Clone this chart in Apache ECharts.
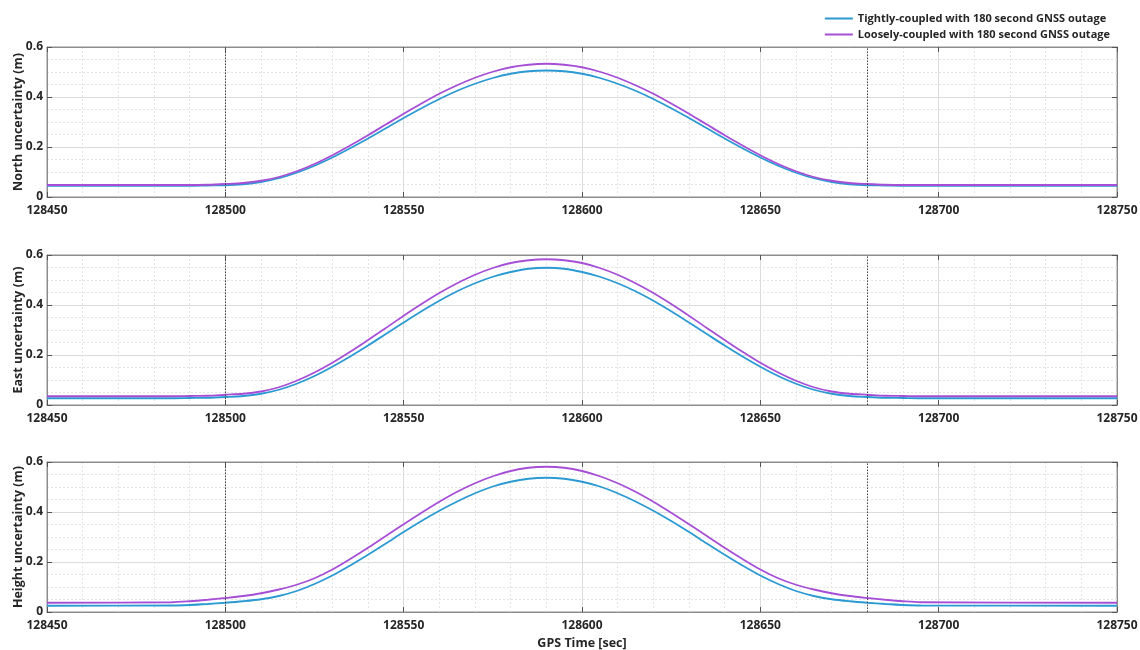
<!DOCTYPE html>
<html>
<head>
<meta charset="utf-8">
<script src="https://cdn.jsdelivr.net/npm/echarts@6/dist/echarts.min.js"></script>
<style>
  html, body { margin: 0; padding: 0; background: #fff; }
  #chart { width: 1140px; height: 650px; }
</style>
</head>
<body>
<div id="chart"></div>
<script>
// ---- data ----
const times = [128450, 128485, 128490, 128495,
  128500, 128505, 128510, 128515, 128520, 128525, 128530, 128535, 128540, 128545,
  128550, 128555, 128560, 128565, 128570, 128575, 128580, 128585, 128590,
  128595, 128600, 128605, 128610, 128615, 128620, 128625, 128630, 128635,
  128640, 128645, 128650, 128655, 128660, 128665, 128670, 128675, 128680,
  128685, 128690, 128695, 128750];

const northTight = [0.045, 0.045, 0.045, 0.046,
  0.047, 0.051, 0.060, 0.075, 0.097, 0.125, 0.158, 0.195, 0.234, 0.275, 0.316, 0.355, 0.392, 0.425, 0.453, 0.476, 0.493, 0.503, 0.506,
  0.503, 0.493, 0.476, 0.453, 0.425, 0.392, 0.355, 0.316, 0.275, 0.234, 0.195, 0.158, 0.125, 0.097, 0.075, 0.060, 0.051, 0.047,
  0.046, 0.045, 0.045, 0.045];
const northLoose = [0.048, 0.048, 0.048, 0.049,
  0.052, 0.056, 0.065, 0.080, 0.103, 0.132, 0.167, 0.206, 0.247, 0.290, 0.333, 0.374, 0.413, 0.447, 0.477, 0.501, 0.519, 0.529, 0.533,
  0.529, 0.519, 0.501, 0.477, 0.447, 0.413, 0.374, 0.333, 0.290, 0.247, 0.206, 0.167, 0.132, 0.103, 0.080, 0.065, 0.056, 0.052,
  0.049, 0.048, 0.048, 0.048];
const eastTight = [0.027, 0.027, 0.028, 0.029,
  0.032, 0.036, 0.045, 0.061, 0.085, 0.116, 0.153, 0.194, 0.238, 0.284, 0.330, 0.375, 0.417, 0.455, 0.487, 0.513, 0.532, 0.545, 0.549,
  0.545, 0.532, 0.513, 0.487, 0.455, 0.417, 0.375, 0.330, 0.284, 0.238, 0.194, 0.153, 0.116, 0.085, 0.061, 0.045, 0.036, 0.032,
  0.029, 0.028, 0.027, 0.027];
const eastLoose = [0.035, 0.035, 0.036, 0.037,
  0.041, 0.045, 0.054, 0.071, 0.097, 0.130, 0.169, 0.213, 0.260, 0.308, 0.357, 0.404, 0.448, 0.487, 0.521, 0.548, 0.568, 0.579, 0.583,
  0.579, 0.568, 0.548, 0.521, 0.487, 0.448, 0.404, 0.357, 0.308, 0.260, 0.213, 0.169, 0.130, 0.097, 0.071, 0.054, 0.045, 0.041,
  0.037, 0.036, 0.035, 0.035];
const heightTight = [0.025, 0.026, 0.028, 0.032,
  0.037, 0.043, 0.051, 0.064, 0.084, 0.112, 0.146, 0.186, 0.229, 0.274, 0.320, 0.364, 0.405, 0.442, 0.475, 0.502, 0.521, 0.533, 0.537,
  0.533, 0.521, 0.502, 0.475, 0.442, 0.405, 0.364, 0.320, 0.274, 0.229, 0.186, 0.146, 0.112, 0.084, 0.064, 0.051, 0.043, 0.037,
  0.032, 0.028, 0.026, 0.025];
const heightLoose = [0.037, 0.039, 0.043, 0.049,
  0.056, 0.064, 0.075, 0.090, 0.109, 0.135, 0.170, 0.212, 0.257, 0.304, 0.351, 0.397, 0.441, 0.481, 0.515, 0.543, 0.564, 0.577, 0.581,
  0.577, 0.564, 0.543, 0.515, 0.481, 0.441, 0.397, 0.351, 0.304, 0.257, 0.212, 0.170, 0.135, 0.109, 0.090, 0.075, 0.064, 0.056,
  0.049, 0.043, 0.039, 0.037];

const panelNames = ['North uncertainty (m)', 'East uncertainty (m)', 'Height uncertainty (m)'];
const seriesNames = ['Tightly-coupled with 180 second GNSS outage', 'Loosely-coupled with 180 second GNSS outage'];
const tightSets = [northTight, eastTight, heightTight];
const looseSets = [northLoose, eastLoose, heightLoose];
const outageMarks = [128500, 128680];
const xName = 'GPS Time [sec]';

// ---- chart ----
const FONT = '"Open Sans", "Noto Sans", sans-serif';
const TXT = '#262626';
const BLUE = '#2b9ad3';
const PURPLE = '#a64fd6';
const gridTops = [47, 255, 462];
const gridH = 150;

const grids = [], xAxes = [], yAxes = [], series = [];
gridTops.forEach((top, p) => {
  grids.push({ left: 47, right: 23, top: top, height: gridH, show: true,
    containLabel: false, outerBoundsMode: 'none',
    borderColor: '#8c8c8c', borderWidth: 1, backgroundColor: '#fff' });
  const isLast = p === gridTops.length - 1;
  // bottom x axis
  xAxes.push({
    type: 'value', gridIndex: p, min: 128450, max: 128750, interval: 50,
    name: isLast ? xName : '', nameLocation: 'middle', nameGap: 25, nameMoveOverlap: false,
    nameTextStyle: { fontFamily: FONT, fontWeight: 'bold', fontSize: 12.5, color: TXT },
    axisLine: { show: true, onZero: false, lineStyle: { color: '#8c8c8c' } },
    axisTick: { show: true, inside: true, length: 5, lineStyle: { color: '#555' } },
    axisLabel: { fontFamily: FONT, fontWeight: 'bold', fontSize: 12, color: TXT, margin: 8,
      showMinLabel: true, showMaxLabel: true, formatter: v => String(v) },
    splitLine: { show: true, lineStyle: { color: '#dcdcdc', width: 1 } },
    minorTick: { show: false, splitNumber: 5 },
    minorSplitLine: { show: true, lineStyle: { color: '#e4e4e4', width: 1, type: [2, 2] } }
  });
  // top mirror x axis (ticks only)
  xAxes.push({
    type: 'value', gridIndex: p, position: 'top', min: 128450, max: 128750, interval: 50,
    axisLine: { show: true, onZero: false, lineStyle: { color: '#8c8c8c' } },
    axisTick: { show: true, inside: true, length: 5, lineStyle: { color: '#555' } },
    axisLabel: { show: false }, splitLine: { show: false }
  });
  // left y axis
  yAxes.push({
    type: 'value', gridIndex: p, min: 0, max: 0.6, interval: 0.2,
    name: panelNames[p], nameLocation: 'middle', nameGap: 22, nameRotate: 90, nameMoveOverlap: false,
    nameTextStyle: { fontFamily: FONT, fontWeight: 'bold', fontSize: 12.5, color: TXT },
    axisLine: { show: true, onZero: false, lineStyle: { color: '#8c8c8c' } },
    axisTick: { show: true, inside: true, length: 5, lineStyle: { color: '#555' } },
    axisLabel: { fontFamily: FONT, fontWeight: 'bold', fontSize: 12, color: TXT, margin: 4,
      formatter: v => String(Math.round(v * 10) / 10) },
    splitLine: { show: true, lineStyle: { color: '#dcdcdc', width: 1 } },
    minorTick: { show: false, splitNumber: 4 },
    minorSplitLine: { show: true, lineStyle: { color: '#e4e4e4', width: 1, type: [2, 2] } }
  });
  // right mirror y axis
  yAxes.push({
    type: 'value', gridIndex: p, position: 'right', min: 0, max: 0.6, interval: 0.2,
    axisLine: { show: true, onZero: false, lineStyle: { color: '#8c8c8c' } },
    axisTick: { show: true, inside: true, length: 5, lineStyle: { color: '#555' } },
    axisLabel: { show: false }, splitLine: { show: false }
  });

  const xi = p * 2, yi = p * 2;
  series.push({
    name: seriesNames[0], type: 'line', xAxisIndex: xi, yAxisIndex: yi,
    data: times.map((t, i) => [t, tightSets[p][i]]),
    showSymbol: false, smooth: 0.3, lineStyle: { color: BLUE, width: 1.8 }, itemStyle: { color: BLUE },
    z: 3,
    markLine: {
      silent: true, symbol: 'none', label: { show: false },
      lineStyle: { color: '#444', type: [1.5, 1.5], width: 1 },
      data: outageMarks.map(v => ({ xAxis: v }))
    }
  });
  series.push({
    name: seriesNames[1], type: 'line', xAxisIndex: xi, yAxisIndex: yi,
    data: times.map((t, i) => [t, looseSets[p][i]]),
    showSymbol: false, smooth: 0.3, lineStyle: { color: PURPLE, width: 1.8 }, itemStyle: { color: PURPLE },
    z: 4
  });
});

const chart = echarts.init(document.getElementById('chart'), null, { renderer: 'canvas' });
chart.setOption({
  animation: false,
  backgroundColor: '#fff',
  legend: {
    data: seriesNames, orient: 'vertical', right: 25, top: 8,
    icon: 'rect', itemWidth: 28, itemHeight: 2, itemGap: 5,
    textStyle: { fontFamily: FONT, fontWeight: 'bold', fontSize: 11, color: TXT }
  },
  grid: grids,
  xAxis: xAxes,
  yAxis: yAxes,
  series: series
});
</script>
</body>
</html>
